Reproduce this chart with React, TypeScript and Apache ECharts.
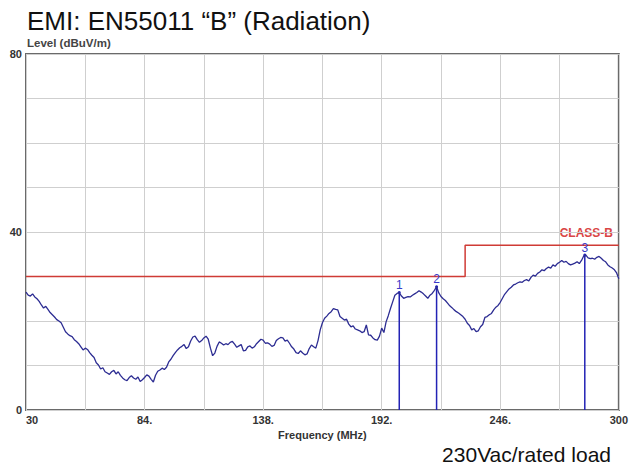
import React, { useEffect, useRef } from "react";
import * as echarts from "echarts";

// Measured level (dBuV/m), one reading per MHz from 30 MHz to 300 MHz
const LEVEL_DBUV: number[] = [
  26.5, 25.8, 25.6, 26.1, 25.4, 25.0, 24.4, 23.6, 22.9, 23.3,
  22.6, 21.9, 21.4, 20.9, 20.3, 20.0, 19.6, 18.6, 17.6, 17.1,
  16.7, 16.5, 15.8, 15.4, 14.9, 14.2, 13.5, 13.9, 13.6, 12.9,
  12.3, 11.8, 10.6, 10.1, 9.2, 9.5, 8.6, 8.3, 8.0, 8.6,
  8.9, 8.1, 8.6, 7.8, 7.2, 6.8, 6.6, 7.3, 7.7, 7.2,
  6.9, 7.4, 6.4, 6.8, 7.3, 7.9, 7.6, 6.9, 6.3, 7.8,
  8.7, 9.0, 9.4, 9.1, 9.6, 10.8, 11.4, 12.2, 12.9, 13.5,
  14.0, 14.3, 14.7, 13.8, 14.2, 15.5, 16.4, 16.6, 15.8, 15.2,
  15.6, 16.2, 16.6, 15.9, 13.9, 12.2, 12.8, 14.3, 15.3, 15.0,
  14.6, 14.9, 14.7, 15.2, 15.4, 14.8, 14.1, 14.4, 14.7, 13.3,
  13.4, 14.2, 14.4, 13.9, 14.2, 14.9, 15.4, 15.9, 15.7, 15.0,
  15.1, 14.8, 14.3, 14.5, 15.6, 16.0, 16.3, 16.2, 15.5, 15.7,
  15.0, 14.2, 13.7, 12.9, 12.7, 13.3, 12.8, 12.4, 12.6, 13.8,
  14.6, 14.2, 13.9, 15.6, 18.0, 19.6, 20.6, 21.1, 21.7, 22.1,
  22.8, 22.6, 22.5, 21.0, 20.6, 20.2, 20.4, 19.3, 18.7, 18.9,
  18.2, 18.0, 17.8, 17.4, 17.6, 19.1, 16.9, 16.8, 16.2, 15.8,
  15.7, 16.6, 18.4, 17.4, 19.8, 21.2, 22.8, 24.3, 25.8, 26.2,
  26.4, 25.6, 25.1, 25.3, 25.5, 25.4, 25.8, 26.1, 26.4, 26.8,
  26.5, 26.1, 25.6, 25.1, 25.8, 26.2, 26.9, 27.7, 26.3, 25.5,
  25.0, 24.6, 24.0, 23.4, 23.0, 22.5, 22.1, 21.8, 21.4, 21.0,
  20.4, 19.5, 19.0, 18.0, 18.3, 17.6, 17.8, 18.7, 19.2, 20.8,
  21.0, 21.4, 21.7, 22.5, 23.1, 23.5, 24.2, 25.1, 26.0, 26.6,
  27.2, 27.6, 28.1, 28.3, 28.6, 28.8, 28.7, 29.1, 29.3, 29.0,
  29.8, 30.3, 30.1, 30.7, 31.0, 31.5, 31.3, 31.8, 32.1, 31.9,
  32.6, 32.3, 32.9, 33.2, 33.6, 33.2, 33.4, 32.9, 32.6, 32.8,
  33.0, 33.3, 32.9, 33.6, 34.6, 34.8, 34.2, 34.0, 34.1, 33.9,
  34.3, 34.5, 34.1, 33.6, 33.3, 32.6, 32.2, 31.9, 31.5, 30.8,
  29.5,
];
const FREQ_START_MHZ = 30;
const FREQ_MHZ: number[] = LEVEL_DBUV.map((_, i) => FREQ_START_MHZ + i);

// CLASS-B limit (dBuV/m)
const LIMIT_FREQ: number[] = [30, 230, 230, 300];
const LIMIT_LEVEL: number[] = [30, 30, 37, 37];

// Markers
const MARKER_FREQ: number[] = [200, 217, 284.5];
const MARKER_LEVEL: number[] = [26.4, 27.7, 34.8];
const MARKER_NAMES: string[] = ["1", "2", "3"];

// Axis ticks
const X_TICK_LABELS: Record<number, string> = { 30: "30", 84: "84.", 138: "138.", 192: "192.", 246: "246.", 300: "300" };
const Y_TICK_LABELS: Record<number, string> = { 0: "0", 40: "40", 80: "80" };

const FONT = "'Liberation Sans', Arial, sans-serif";

export default function App() {
  const ref = useRef<HTMLDivElement>(null);
  useEffect(() => {
    if (!ref.current) return;
    const chart = echarts.init(ref.current, null, { renderer: "svg" });
    const markerSeries = MARKER_FREQ.map((f, i) => ({
      type: "line",
      xAxisIndex: 0,
      yAxisIndex: 0,
      silent: true,
      z: 4,
      lineStyle: { color: "#2323b5", width: 1.5 },
      itemStyle: { color: "#2323b5" },
      symbol: "circle",
      symbolSize: 3,
      data: [
        { value: [f, 0], symbol: "none" },
        {
          value: [f, MARKER_LEVEL[i]],
          label: {
            show: true,
            position: "top",
            distance: 0,
            formatter: MARKER_NAMES[i],
            color: "#3a3ac8",
            fontSize: 12,
            fontFamily: FONT,
          },
        },
      ],
    }));
    chart.setOption({
      animation: false,
      backgroundColor: "#ffffff",
      grid: {
        left: 26,
        right: 12,
        top: 54,
        bottom: 60,
        show: true,
        borderColor: "#6a6a6a",
        borderWidth: 2,
        backgroundColor: "#ffffff",
      },
      xAxis: [
        {
          type: "value",
          min: 30,
          max: 300,
          show: false,
        },
        {
          type: "value",
          min: 0,
          max: 270,
          interval: 27,
          position: "bottom",
          axisLine: { show: false },
          axisTick: { show: false },
          splitLine: { show: true, lineStyle: { color: "#cfcfcf", width: 1 } },
          axisLabel: {
            show: true,
            showMinLabel: true,
            showMaxLabel: true,
            alignMinLabel: "left",
            margin: 4,
            fontSize: 11,
            fontWeight: "bold",
            color: "#333",
            fontFamily: FONT,
            formatter: (v: number) => X_TICK_LABELS[v + 30] ?? "",
          },
          name: "Frequency (MHz)",
          nameLocation: "middle",
          nameGap: 18,
          nameTextStyle: { fontSize: 11, fontWeight: "bold", color: "#333", fontFamily: FONT },
        },
      ],
      yAxis: {
        type: "value",
        min: 0,
        max: 80,
        interval: 10,
        axisLine: { show: false },
        axisTick: { show: false },
        splitLine: { show: true, lineStyle: { color: "#cfcfcf", width: 1 } },
        axisLabel: {
          margin: 4,
          fontSize: 11,
          fontWeight: "bold",
          color: "#333",
          fontFamily: FONT,
          formatter: (v: number) => Y_TICK_LABELS[v] ?? "",
        },
      },
      graphic: [
        {
          type: "text",
          left: 27,
          top: 8,
          style: { text: "EMI: EN55011 \u201cB\u201d (Radiation)", fontSize: 26, fill: "#111", fontFamily: FONT },
        },
        {
          type: "text",
          left: 27,
          top: 37,
          style: { text: "Level (dBuV/m)", fontSize: 11.5, fontWeight: "bold", fill: "#444", fontFamily: FONT },
        },
        {
          type: "text",
          right: 18,
          top: 227,
          style: { text: "CLASS-B", fontSize: 12, fontWeight: "bold", fill: "#d94545", fontFamily: FONT },
        },
        {
          type: "text",
          right: 20,
          top: 444,
          style: { text: "230Vac/rated load", fontSize: 21, fill: "#111", fontFamily: FONT },
        },
      ],
      series: [
        {
          type: "line",
          name: "Limit",
          xAxisIndex: 0,
          yAxisIndex: 0,
          silent: true,
          symbol: "none",
          z: 3,
          lineStyle: { color: "#cf3b35", width: 1.5 },
          data: LIMIT_FREQ.map((f, i) => [f, LIMIT_LEVEL[i]]),
        },
        {
          type: "line",
          name: "Level",
          xAxisIndex: 0,
          yAxisIndex: 0,
          silent: true,
          symbol: "none",
          z: 5,
          lineStyle: { color: "#2c2c92", width: 1.3 },
          data: FREQ_MHZ.map((f, i) => [f, LEVEL_DBUV[i]]),
        },
        ...markerSeries,
      ],
    });
    return () => chart.dispose();
  }, []);
  return (
    <div
      ref={ref}
      style={{ position: "fixed", left: 0, top: 0, width: 631, height: 470, background: "#fff" }}
    />
  );
}
